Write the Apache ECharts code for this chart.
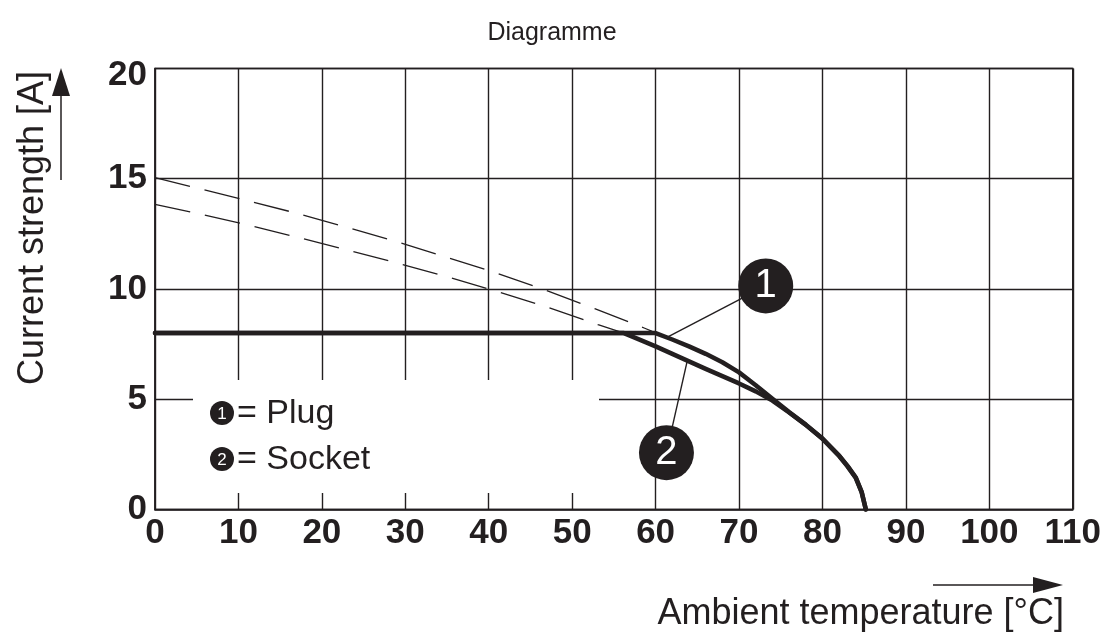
<!DOCTYPE html>
<html>
<head>
<meta charset="utf-8">
<title>Diagramme</title>
<script src="https://cdn.jsdelivr.net/npm/echarts@6/dist/echarts.min.js"></script>
<style>
  html, body { margin: 0; padding: 0; background: #ffffff; }
  #chart { width: 1104px; height: 634px; }
</style>
</head>
<body>
<div id="chart"></div>
<script>
// Derating curves: ambient temperature [°C] vs. current strength [A]
const plugDashT = [0, 10.3, 16.5, 22.6, 28.7, 34.8, 40.8, 46.8, 52.7, 58.7, 59.6];
const plugDashI = [15.05, 14.08, 13.48, 12.84, 12.18, 11.45, 10.74, 9.95, 9.11, 8.22, 8.08];

const socketDashT = [0, 4.2, 10.3, 16.5, 22.7, 28.9, 35.0, 41.1, 47.1, 53.1, 56.2];
const socketDashI = [13.84, 13.5, 12.98, 12.4, 11.8, 11.19, 10.56, 9.88, 9.17, 8.38, 8.0];

const plugT = [0, 60, 62, 64, 66, 68, 70, 72, 74, 76, 78, 80, 82, 83, 84, 84.7, 85.2];
const plugI = [8, 8, 7.71, 7.4, 7.06, 6.68, 6.22, 5.64, 5.02, 4.42, 3.85, 3.22, 2.45, 1.98, 1.45, 0.8, 0];

const socketT = [0, 56.2, 58, 60, 62, 64, 66, 68, 70, 72, 74, 76, 78, 80, 82, 83, 84, 84.7, 85.2];
const socketI = [8, 8, 7.72, 7.4, 7.06, 6.72, 6.38, 6.05, 5.72, 5.36, 4.94, 4.4, 3.84, 3.21, 2.43, 1.96, 1.43, 0.78, 0];

// Callout markers (number, centre, point on the curve they refer to)
const calloutLabels = ['1', '2'];
const calloutCentres = [[73.2, 10.14], [61.3, 2.58]];
const calloutTargets = [[61.3, 7.8], [63.8, 6.75]];

const xTicks = [0, 10, 20, 30, 40, 50, 60, 70, 80, 90, 100, 110];
const yTicks = [0, 5, 10, 15, 20];
const legendItems = ['= Plug', '= Socket'];

const INK = '#231f20';
const FONT = '"Liberation Sans", Arial, Helvetica, sans-serif';

const pairs = (xs, ys) => xs.map((x, i) => [x, ys[i]]);

const chart = echarts.init(document.getElementById('chart'), null, { renderer: 'canvas' });

const series = [
  {
    type: 'line', name: 'Plug (extrapolated)', data: pairs(plugDashT, plugDashI),
    showSymbol: false, symbol: 'none', z: 3,
    lineStyle: { color: INK, width: 1.3, type: [36, 15] }
  },
  {
    type: 'line', name: 'Socket (extrapolated)', data: pairs(socketDashT, socketDashI),
    showSymbol: false, symbol: 'none', z: 3,
    lineStyle: { color: INK, width: 1.3, type: [36, 15] }
  },
  {
    type: 'line', name: 'Plug', data: pairs(plugT, plugI),
    showSymbol: false, symbol: 'none', z: 4,
    lineStyle: { color: INK, width: 4.5, cap: 'round', join: 'round' }
  },
  {
    type: 'line', name: 'Socket', data: pairs(socketT, socketI),
    showSymbol: false, symbol: 'none', z: 4,
    lineStyle: { color: INK, width: 4.5, cap: 'round', join: 'round' }
  }
];

// leader lines from each callout bubble to its curve
calloutCentres.forEach((c, i) => {
  series.push({
    type: 'line', data: [c, calloutTargets[i]], showSymbol: false, symbol: 'none', z: 5,
    lineStyle: { color: INK, width: 1.4 }
  });
});

// numbered callout bubbles
series.push({
  type: 'scatter', z: 6,
  data: calloutCentres.map((c, i) => ({ value: c, name: calloutLabels[i] })),
  symbol: 'circle', symbolSize: 55,
  itemStyle: { color: INK, opacity: 1 },
  label: {
    show: true, position: 'inside', formatter: p => p.name,
    color: '#ffffff', fontSize: 40, fontFamily: FONT
  }
});

const legendGraphics = [
  { type: 'rect', z: 50, shape: { x: 193, y: 380, width: 406, height: 113 }, style: { fill: '#ffffff' } }
];
legendItems.forEach((txt, i) => {
  const cy = 413 + i * 46;
  legendGraphics.push(
    { type: 'circle', z: 51, shape: { cx: 222, cy: cy, r: 12 }, style: { fill: INK } },
    { type: 'text', z: 52, x: 222, y: cy + 1,
      style: { text: String(i + 1), fill: '#ffffff', font: '17px ' + FONT, align: 'center', verticalAlign: 'middle' } },
    { type: 'text', z: 52, x: 237, y: cy + 1,
      style: { text: txt, fill: INK, font: '34px ' + FONT, align: 'left', verticalAlign: 'middle' } }
  );
});

const option = {
  backgroundColor: '#ffffff',
  animation: false,
  title: {
    text: 'Diagramme', left: 'center', top: 16,
    textStyle: { fontSize: 25, fontWeight: 'normal', color: INK, fontFamily: FONT }
  },
  grid: {
    left: 155, right: 29.4, top: 68.4, bottom: 124.4, containLabel: false,
    show: true, borderColor: INK, borderWidth: 1.5, backgroundColor: 'transparent'
  },
  xAxis: {
    type: 'value', min: xTicks[0], max: xTicks[xTicks.length - 1], interval: 10,
    axisLine: { show: true, lineStyle: { color: INK, width: 1.5 } },
    axisTick: { show: false },
    splitLine: { show: true, lineStyle: { color: INK, width: 1.4 } },
    axisLabel: {
      color: INK, fontSize: 35, fontWeight: 'bold', fontFamily: FONT, margin: 6,
      formatter: v => xTicks.includes(v) ? String(v) : ''
    }
  },
  yAxis: {
    type: 'value', min: yTicks[0], max: yTicks[yTicks.length - 1], interval: 5,
    axisLine: { show: true, lineStyle: { color: INK, width: 1.5 } },
    axisTick: { show: false },
    splitLine: { show: true, lineStyle: { color: INK, width: 1.4 } },
    axisLabel: {
      color: INK, fontSize: 35, fontWeight: 'bold', fontFamily: FONT, margin: 8,
      formatter: v => {
        if (!yTicks.includes(v)) return '';
        return v === yTicks[yTicks.length - 1] ? '{top|' + v + '}' : String(v);
      },
      rich: {
        top: { fontSize: 35, fontWeight: 'bold', fontFamily: FONT, color: INK, padding: [14, 0, 0, 0] }
      }
    }
  },
  series: series,
  graphic: [
    // y-axis title with upward arrow
    { type: 'text', x: 33, y: 228, rotation: Math.PI / 2,
      style: { text: 'Current strength [A]', fill: INK, font: '36px ' + FONT, align: 'center', verticalAlign: 'middle' } },
    { type: 'line', shape: { x1: 61, y1: 180, x2: 61, y2: 94 }, style: { stroke: INK, lineWidth: 1.5 } },
    { type: 'polygon', shape: { points: [[61, 68], [52, 96], [70, 96]] }, style: { fill: INK } },
    // x-axis title with rightward arrow
    { type: 'text', x: 1064, y: 614,
      style: { text: 'Ambient temperature [°C]', fill: INK, font: '36px ' + FONT, align: 'right', verticalAlign: 'middle' } },
    { type: 'line', shape: { x1: 933, y1: 585, x2: 1036, y2: 585 }, style: { stroke: INK, lineWidth: 1.5 } },
    { type: 'polygon', shape: { points: [[1063, 585], [1033, 577], [1033, 593]] }, style: { fill: INK } }
  ].concat(legendGraphics)
};

chart.setOption(option);
</script>
</body>
</html>
